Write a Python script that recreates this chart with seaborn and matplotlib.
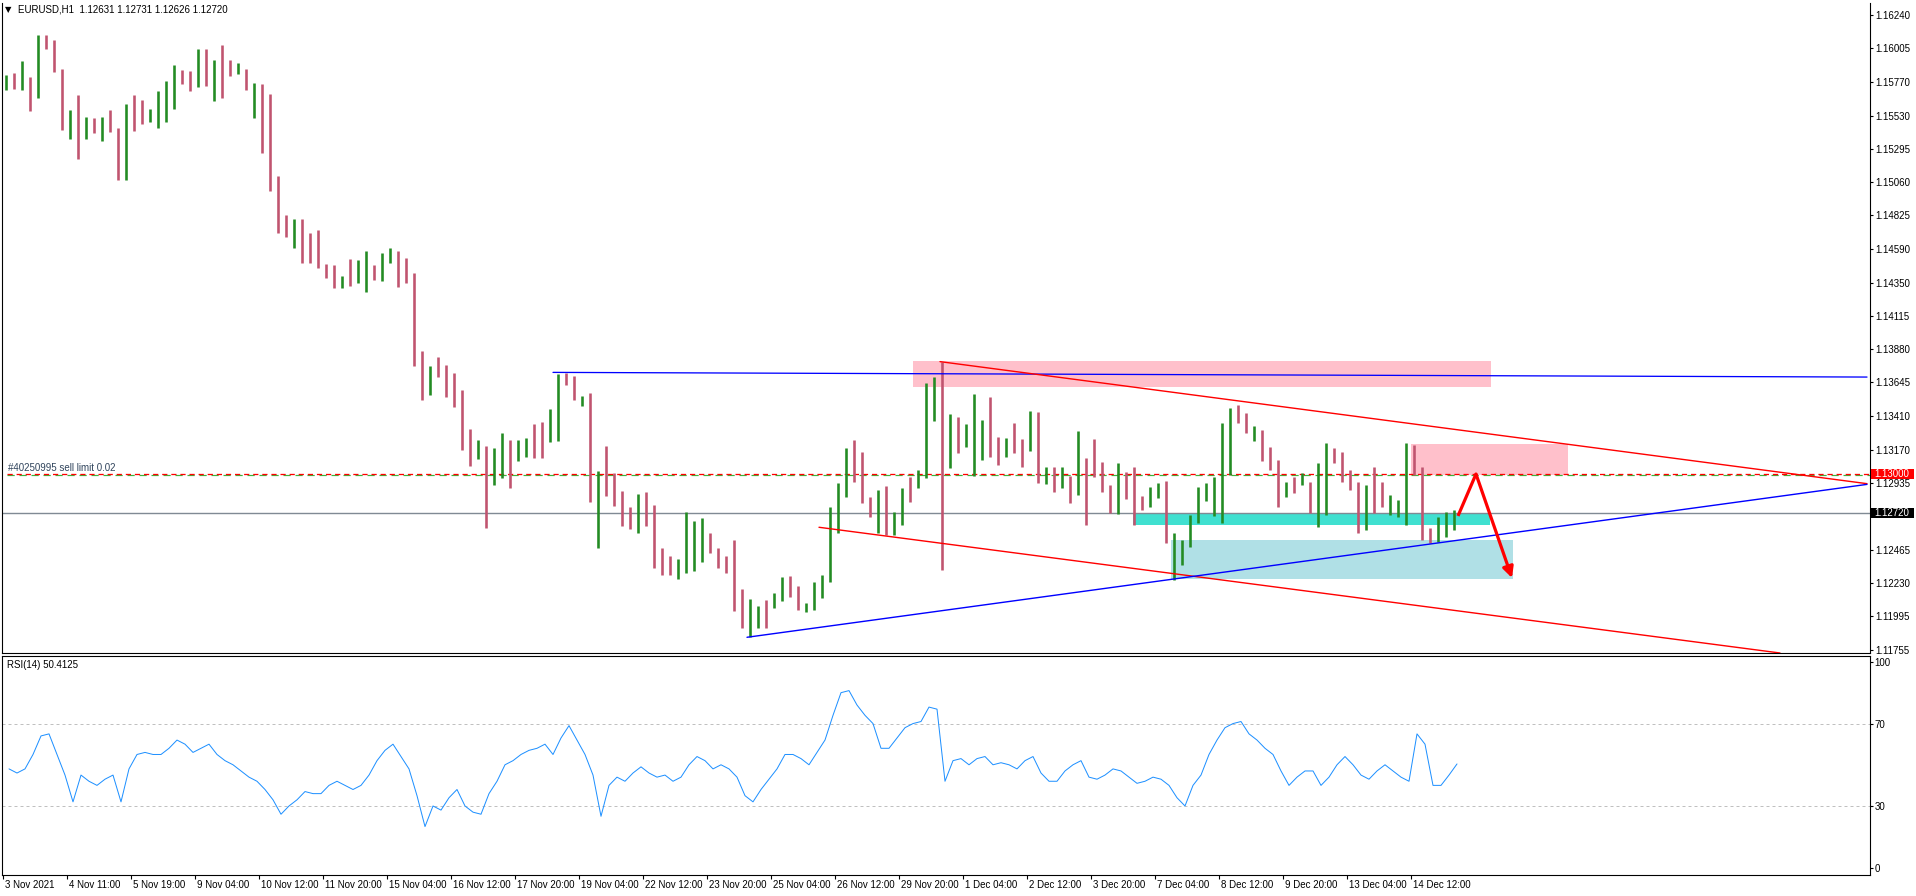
import numpy as np
import pandas as pd
import matplotlib
matplotlib.use("Agg")
import matplotlib.pyplot as plt
import matplotlib.transforms as mtransforms
from matplotlib.patches import Rectangle
import seaborn as sns

# ---------------- data (4-hour aggregation of the H1 chart) ----------------
first_open = 1.15760
highs = [
    1.15817,1.15833,1.15915,1.15805,1.16099,1.16099,1.16064,1.15859,1.15569,1.15675,
    1.15522,1.15511,1.15522,1.15569,1.15442,1.15612,1.15675,1.15640,1.15576,1.15706,
    1.15774,1.15887,1.15852,1.15845,1.16000,1.16000,1.15923,1.16028,1.15923,1.15899,
    1.15859,1.15758,1.15751,1.15682,1.15103,1.14828,1.14797,1.14800,1.14698,1.14722,
    1.14480,1.14475,1.14397,1.14517,1.14510,1.14574,
    1.14474,1.14557,1.14597,1.14573,1.14521,1.14415,1.13867,1.13763,1.13827,1.13768,
    1.13714,1.13591,1.13316,1.13238,1.13198,1.13180,1.13285,1.13238,1.13238,1.13250,
    1.13351,1.13368,1.13457,1.13704,1.13714,1.13690,1.13549,1.13568,1.13022,1.13196,
    1.13003,1.12878,1.12768,1.12855,1.12873,1.12779,1.12473,1.12419,1.12396,1.12732,
    1.12666,1.12690,1.12579,1.12473,1.12419,
    1.12532,1.12184,1.12113,1.12066,1.12108,1.12160,1.12273,1.12280,1.12207,1.12085,
    1.12233,1.12285,1.12768,1.12932,1.13184,1.13238,1.13156,1.12838,1.12885,1.12916,
    1.12732,1.12902,1.12979,1.13027,1.13639,1.13686,1.13792,1.13420,1.13403,1.13349,
    1.13563,1.13380,1.13540,1.13257,1.13250,1.13356,1.13243,1.13443,1.13439,1.13050,
    1.13050,1.13050,1.12984,1.13302,1.13109,1.13243,
    1.13085,1.12920,1.13073,1.13014,1.13045,1.12843,1.12908,1.12937,1.12951,1.12579,
    1.12532,1.12708,1.12908,1.12937,1.12979,1.13356,1.13466,1.13485,1.13426,1.13339,
    1.13309,1.13186,1.13097,1.12944,1.12979,1.13003,1.12944,1.13073,1.13214,1.13179,
    1.13156,1.13026,1.12944,1.12920,1.13050,1.12944,1.12850,1.12814,1.13214,1.13203,
    1.13050,1.12614,1.12697,1.12732,1.12744,
]
lows = [
    1.15711,1.15718,1.15711,1.15565,1.15657,1.16000,1.15835,1.15428,1.15365,1.15223,
    1.15365,1.15405,1.15350,1.15414,1.15075,1.15075,1.15421,1.15473,1.15482,1.15445,
    1.15487,1.15576,1.15753,1.15704,1.15734,1.15741,1.15635,1.15657,1.15812,1.15821,
    1.15711,1.15515,1.15263,1.14997,1.14698,1.14675,1.14597,1.14491,1.14491,1.14451,
    1.14385,1.14315,1.14315,1.14329,1.14345,1.14286,
    1.14368,1.14364,1.14486,1.14321,1.14345,1.13763,1.13521,1.13556,1.13686,1.13544,
    1.13474,1.13168,1.13055,1.13104,1.12615,1.12921,1.12968,1.12902,1.13092,1.13121,
    1.13109,1.13109,1.13227,1.13234,1.13627,1.13521,1.13481,1.12803,1.12473,1.12845,
    1.12775,1.12631,1.12607,1.12579,1.12631,1.12337,1.12285,1.12285,1.12254,1.12297,
    1.12316,1.12379,1.12438,1.12332,1.12301,
    1.12033,1.11908,1.11845,1.11908,1.11913,1.12050,1.12101,1.12132,1.12038,1.12026,
    1.12038,1.12120,1.12238,1.12579,1.12838,1.12944,1.12791,1.12697,1.12579,1.12568,
    1.12568,1.12638,1.12803,1.12897,1.12968,1.13375,1.12320,1.13038,1.13144,1.13191,
    1.12987,1.13097,1.13121,1.13062,1.13121,1.13144,1.13050,1.13161,1.12932,1.12925,
    1.12874,1.12902,1.12791,1.12850,1.12638,1.12979,
    1.12873,1.12720,1.12715,1.12819,1.12638,1.12744,1.12767,1.12826,1.12508,1.12249,
    1.12355,1.12485,1.12650,1.12810,1.12701,1.12650,1.12991,1.13356,1.13285,1.13231,
    1.13090,1.13026,1.12763,1.12838,1.12866,1.12920,1.12720,1.12626,1.12708,1.13073,
    1.12944,1.12885,1.12579,1.12602,1.12720,1.12767,1.12708,1.12697,1.12638,1.12991,
    1.12532,1.12513,1.12520,1.12555,1.12602,
]
closes = [
    1.15770,1.15722,1.15722,1.15715,1.16076,1.16052,1.15840,1.15440,1.15558,1.15358,
    1.15440,1.15409,1.15518,1.15421,1.15099,1.15605,1.15593,1.15480,1.15539,1.15551,
    1.15616,1.15770,1.15758,1.15711,1.15993,1.15875,1.15904,1.15875,1.15828,1.15887,
    1.15711,1.15753,1.15275,1.15004,1.14703,1.14687,1.14753,1.14522,1.14515,1.14458,
    1.14409,1.14322,1.14392,1.14334,1.14404,1.14463,
    1.14373,1.14552,1.14580,1.14408,1.14349,1.13768,1.13681,1.13756,1.13714,1.13549,
    1.13526,1.13172,1.13168,1.13234,1.13010,1.13050,1.13227,1.13102,1.13121,1.13245,
    1.13234,1.13208,1.13243,1.13697,1.13650,1.13526,1.13544,1.12808,1.12944,1.12902,
    1.12869,1.12636,1.12631,1.12850,1.12702,1.12384,1.12313,1.12301,1.12306,1.12525,
    1.12527,1.12560,1.12443,1.12433,1.12349,
    1.12038,1.11913,1.11951,1.12061,1.12043,1.12097,1.12184,1.12144,1.12043,1.12080,
    1.12226,1.12280,1.12721,1.12928,1.13092,1.12951,1.12796,1.12702,1.12874,1.12572,
    1.12721,1.12897,1.12885,1.12932,1.13627,1.13681,1.13144,1.13415,1.13149,1.13344,
    1.13363,1.13375,1.13250,1.13175,1.13245,1.13173,1.13095,1.13250,1.12937,1.12961,
    1.12878,1.13045,1.12963,1.13297,1.13055,1.12984,
    1.12878,1.12725,1.13069,1.12826,1.12810,1.12772,1.12904,1.12932,1.12513,1.12513,
    1.12527,1.12704,1.12901,1.12932,1.12972,1.13007,1.13408,1.13360,1.13302,1.13304,
    1.13097,1.13031,1.12831,1.12939,1.12890,1.12996,1.12725,1.13069,1.13182,1.13163,
    1.12948,1.12939,1.12584,1.12913,1.12866,1.12772,1.12798,1.12798,1.13207,1.12996,
    1.12537,1.12520,1.12584,1.12631,1.12720,
]
rsi_values = [
    48,46,48,55,64,65,55,45,32,45,
    42,40,43,45,32,48,55,56,55,55,
    58,62,60,56,58,60,55,52,50,47,
    44,42,38,33,26,30,33,37,36,36,
    40,42,40,38,40,45,52,57,60,54,
    48,35,20,30,28,34,38,30,27,26,
    36,42,50,52,55,57,58,60,55,63,
    69,62,55,45,25,40,44,42,46,49,
    46,44,45,42,44,50,54,52,48,50,
    48,44,35,32,38,43,48,55,55,53,
    50,56,62,74,85,86,79,74,70,58,
    58,63,68,70,71,78,77,42,52,53,
    50,53,54,50,51,50,48,52,54,46,
    42,42,47,50,52,44,43,45,48,47,
    44,41,42,44,43,40,34,30,40,45,
    55,62,68,70,71,65,62,58,55,47,
    40,44,47,47,40,44,50,54,50,45,
    43,47,50,47,44,42,65,60,40,40,
    45,50.4,
]
hours_per_bar = 4

time_labels = ["3 Nov 2021", "4 Nov 11:00", "5 Nov 19:00", "9 Nov 04:00", "10 Nov 12:00",
               "11 Nov 20:00", "15 Nov 04:00", "16 Nov 12:00", "17 Nov 20:00", "19 Nov 04:00",
               "22 Nov 12:00", "23 Nov 20:00", "25 Nov 04:00", "26 Nov 12:00", "29 Nov 20:00",
               "1 Dec 04:00", "2 Dec 12:00", "3 Dec 20:00", "7 Dec 04:00", "8 Dec 12:00",
               "9 Dec 20:00", "13 Dec 04:00", "14 Dec 12:00"]
time_label_bars = [0, 32, 64, 96, 128, 160, 192, 224, 256, 288, 320, 352, 384, 416, 448,
                   480, 512, 544, 576, 608, 640, 672, 704]

price_ticks = [1.16240, 1.16005, 1.15770, 1.15530, 1.15295, 1.15060, 1.14825, 1.14590,
               1.14350, 1.14115, 1.13880, 1.13645, 1.13410, 1.13170, 1.12935, 1.12700,
               1.12465, 1.12230, 1.11995, 1.11755]
hidden_price_ticks = [1.12700]
rsi_ticks = [0, 30, 70, 100]

sell_limit_price = 1.13000
last_price = 1.12720

# drawn objects (bar index, price)
hline_blue = ([275, 932], [1.13716, 1.13683])
trend_red_upper = ([468.5, 932], [1.13792, 1.12930])
trend_red_lower = ([408, 888.5], [1.12622, 1.11734])
trend_blue_up = ([372, 932], [1.11845, 1.12925])
zone_pink_big = (455, 744, 1.13615, 1.13796)
zone_pink_small = (704, 782.5, 1.12990, 1.13210)
zone_turquoise = (565, 743.5, 1.12638, 1.12720)
zone_lightblue = (584, 755, 1.12257, 1.12532)
arrow_path = ([727.5, 736.5, 754.5], [1.12702, 1.12998, 1.12264])

header = "EURUSD,H1  1.12631 1.12731 1.12626 1.12720"
rsi_header = "RSI(14) 50.4125"
order_text = "#40250995 sell limit 0.02"

# ---------------- build ----------------
n = min(len(highs), len(lows), len(closes))
df = pd.DataFrame({"high": highs[:n], "low": lows[:n], "close": closes[:n]})
df["open"] = df["close"].shift(1).fillna(first_open)
df["x"] = np.arange(n) * hours_per_bar + 1.5
df["up"] = df["close"] >= df["open"]
rsi_df = pd.DataFrame({"x": np.arange(len(rsi_values)) * hours_per_bar + 3, "rsi": rsi_values})

sns.set_style("white")
plt.rcParams["font.family"] = ["Liberation Sans", "DejaVu Sans"]
plt.rcParams["axes.linewidth"] = 0.8

W, H = 1916, 896
fig = plt.figure(figsize=(W / 100, H / 100), dpi=100)
fig.patch.set_facecolor("white")


def px_axes(left, top, right, bottom):
    return fig.add_axes([left / W, 1 - bottom / H, (right - left) / W, (bottom - top) / H])


def fx(x):
    return x / W


def fy(y):
    return 1 - y / H


PT = 0.72  # points per pixel
GREEN = "#238b23"
PINK = "#c0546f"

ax = px_axes(2, 3, 1870, 653)
axr = px_axes(2, 656, 1870, 875)

XMIN, XMAX = -0.5, 933.5
ax.set_xlim(XMIN, XMAX)
ax.set_ylim(1.11734, 1.16325)

# zones
for (x0, x1, y0, y1), col in [(zone_pink_big, "#ffc0cb"), (zone_pink_small, "#ffc0cb"),
                              (zone_turquoise, "#40e0d0"), (zone_lightblue, "#b0e0e6")]:
    ax.add_patch(Rectangle((x0, y0), x1 - x0, y1 - y0, facecolor=col, edgecolor="none", zorder=0.5))

# reference lines
ax.axhline(last_price, color="#808a94", lw=1.4 * PT, zorder=1)
ax.plot([2, XMAX], [sell_limit_price - 0.00006] * 2, color="#3cb43c", lw=1.2 * PT,
        dashes=(6, 4), zorder=1.2)
ax.plot([2, XMAX], [sell_limit_price] * 2, color="#ff0000", lw=1.3 * PT,
        dashes=(4, 3), zorder=1.3)

# candles
colors = np.where(df["up"], GREEN, PINK)
ax.vlines(df["x"], df["low"], df["high"], colors=colors, lw=2.6 * PT, zorder=2)

# trend lines
ax.plot(*hline_blue, color="#0000ff", lw=1.3 * PT, zorder=3)
ax.plot(*trend_red_upper, color="#ff0000", lw=1.4 * PT, zorder=3)
ax.plot(*trend_red_lower, color="#ff0000", lw=1.4 * PT, zorder=3)
ax.plot(*trend_blue_up, color="#0000ff", lw=1.4 * PT, zorder=3)

# arrow
ax.plot(arrow_path[0][:2], arrow_path[1][:2], color="#ff0000", lw=3.2 * PT,
        solid_capstyle="butt", zorder=4)
ax.annotate("", xy=(arrow_path[0][2], arrow_path[1][2]),
            xytext=(arrow_path[0][1], arrow_path[1][1]),
            arrowprops=dict(arrowstyle="-|>", color="#ff0000", lw=3.2 * PT,
                            mutation_scale=16, shrinkA=0, shrinkB=0), zorder=4)

# axes styling main
ax.spines["top"].set_visible(False)
for s in ["left", "right", "bottom"]:
    ax.spines[s].set_color("black")
ax.yaxis.tick_right()
ax.set_yticks(price_ticks)
ax.set_yticklabels(["" if p in hidden_price_ticks else f"{p:.5f}" for p in price_ticks])
ax.set_xticks([])
ax.tick_params(axis="y", direction="out", length=3 * PT, width=0.8, pad=1.5,
               labelsize=7, colors="black", right=True, left=False)
ax.grid(False)

# RSI panel
axr.set_xlim(XMIN, XMAX)
axr.set_ylim(-3.5, 102.8)
for lvl in [30, 70]:
    axr.axhline(lvl, color="#c0c0c0", lw=1 * PT, dashes=(3, 3), zorder=1)
sns.lineplot(data=rsi_df, x="x", y="rsi", ax=axr, color="#1e90ff", lw=1.0 * PT,
             legend=False, zorder=2)
axr.set_xlabel("")
axr.set_ylabel("")
for s in axr.spines.values():
    s.set_color("black")
axr.yaxis.tick_right()
axr.set_yticks(rsi_ticks)
axr.set_yticklabels([str(v) for v in rsi_ticks])
axr.tick_params(axis="y", direction="out", length=3 * PT, width=0.8, pad=1.0,
                labelsize=7, colors="black", right=True, left=False)
axr.set_xticks(time_label_bars)
axr.set_xticklabels(time_labels)
axr.tick_params(axis="x", direction="out", length=4 * PT, width=0.8, pad=1.0,
                labelsize=7, colors="black", bottom=True)
offset = mtransforms.ScaledTranslation(2 / 100, 0, fig.dpi_scale_trans)
for lbl in axr.get_xticklabels():
    lbl.set_horizontalalignment("left")
    lbl.set_transform(lbl.get_transform() + offset)
axr.grid(False)

# texts
fig.text(fx(5), fy(10), "\u25bc", fontsize=6, va="center", ha="left",
         family=["DejaVu Sans"], color="black")
fig.text(fx(18), fy(10), header, fontsize=7, va="center", ha="left", color="black",
         bbox=dict(facecolor="white", edgecolor="none", pad=1))
fig.text(fx(7), fy(665), rsi_header, fontsize=7, va="center", ha="left", color="black")
ax.text(2.5, sell_limit_price + 0.00008, order_text, fontsize=7, va="bottom", ha="left",
        color="#30445c", zorder=5)

# right side price labels
for price, bg in [(sell_limit_price, "#ff0000"), (last_price, "#000000")]:
    disp = ax.transData.transform((0, price))[1]
    ypx = H - disp
    fig.patches.append(Rectangle((fx(1871), fy(ypx + 5)), (1914 - 1871) / W, 10 / H,
                                 transform=fig.transFigure, facecolor=bg,
                                 edgecolor="none", zorder=10, figure=fig))
    fig.text(fx(1874), fy(ypx), f"{price:.5f}", fontsize=7, va="center", ha="left",
             color="white", zorder=11)

fig.savefig("out.png", dpi=100, facecolor="white")
